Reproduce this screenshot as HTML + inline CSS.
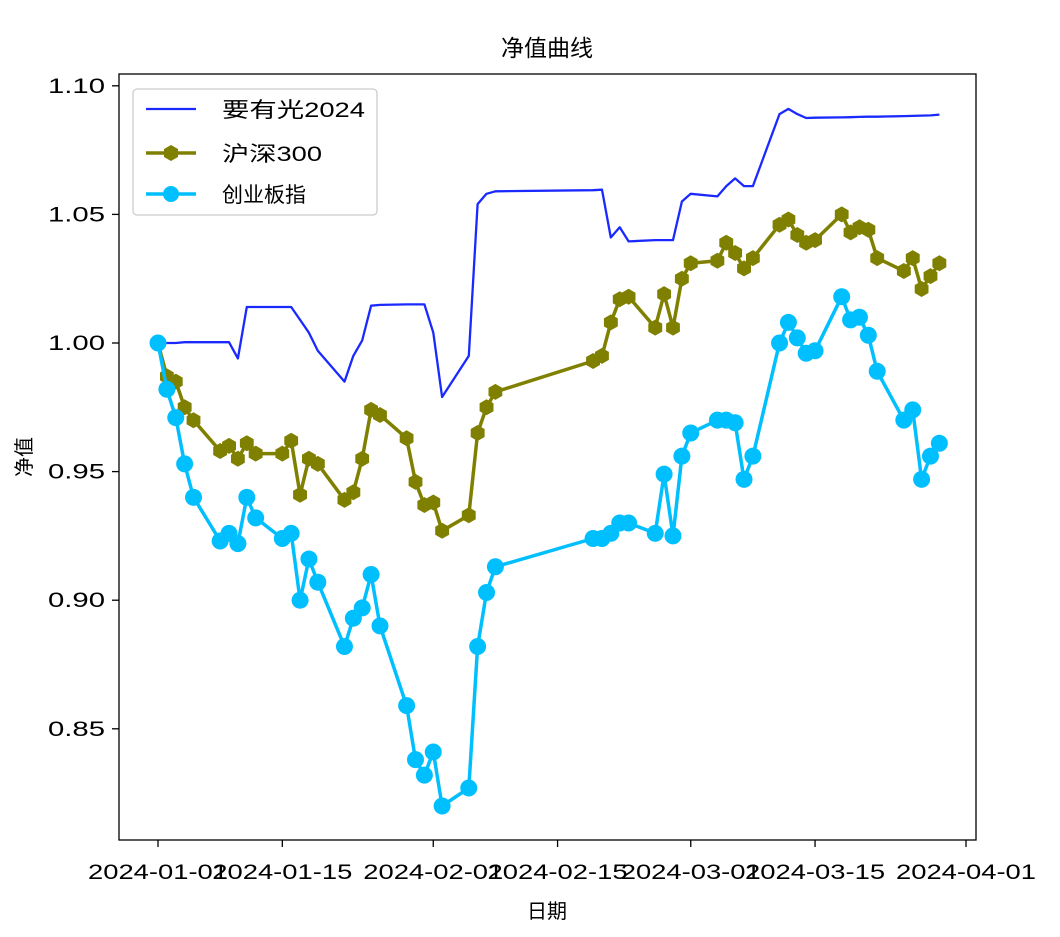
<!DOCTYPE html>
<html><head><meta charset="utf-8">
<style>
html,body{margin:0;padding:0;background:#fff;}
svg text{font-family:"Liberation Sans","Noto Sans CJK SC",sans-serif;fill:#000;}
</style></head>
<body>
<svg id="chart" width="1060" height="932" xmlns="http://www.w3.org/2000/svg">
<rect width="1060" height="932" fill="#fff"/>
<text x="547" y="56" font-size="23" text-anchor="middle">净值曲线</text>
<g id="plot"></g>
<rect x="119" y="74" width="857" height="766" fill="none" stroke="#000" stroke-width="1.3"/>
<text x="547" y="918" font-size="20" text-anchor="middle">日期</text>
<text x="0" y="0" font-size="20" text-anchor="middle" transform="translate(31,457) rotate(-90)">净值</text>
<g>
<rect x="133" y="89" width="244" height="126" rx="4" fill="#fff" stroke="#ccc" stroke-width="1.3"/>
<g>
<line x1="146" y1="109" x2="196" y2="109" stroke="#1a2aff" stroke-width="2.3"/>
<text x="222" y="117" font-size="21" textLength="143" lengthAdjust="spacingAndGlyphs">要有光2024</text></g>
<g>
<line x1="146" y1="153" x2="196" y2="153" stroke="#808000" stroke-width="3.5"/>
<polygon points="171,145 178,149 178,157 171,161 164,157 164,149" fill="#808000"/>
<text x="222" y="161" font-size="21" textLength="100" lengthAdjust="spacingAndGlyphs">沪深300</text></g>
<g>
<line x1="146" y1="194" x2="196" y2="194" stroke="#00bfff" stroke-width="3.5"/>
<circle cx="171" cy="194" r="8" fill="#00bfff"/>
<text x="222" y="202" font-size="21">创业板指</text></g>
</g>
</svg>
<script>
const dates=["2024-01-01","2024-01-02","2024-01-03","2024-01-04","2024-01-05","2024-01-08","2024-01-09","2024-01-10","2024-01-11","2024-01-12","2024-01-15","2024-01-16","2024-01-17","2024-01-18","2024-01-19","2024-01-22","2024-01-23","2024-01-24","2024-01-25","2024-01-26","2024-01-29","2024-01-30","2024-01-31","2024-02-01","2024-02-02","2024-02-05","2024-02-06","2024-02-07","2024-02-08","2024-02-19","2024-02-20","2024-02-21","2024-02-22","2024-02-23","2024-02-26","2024-02-27","2024-02-28","2024-02-29","2024-03-01","2024-03-04","2024-03-05","2024-03-06","2024-03-07","2024-03-08","2024-03-11","2024-03-12","2024-03-13","2024-03-14","2024-03-15","2024-03-18","2024-03-19","2024-03-20","2024-03-21","2024-03-22","2024-03-25","2024-03-26","2024-03-27","2024-03-28","2024-03-29"];
const fundValues=[1.000,1.000,1.000,1.0003,1.0003,1.0003,1.0003,0.994,1.014,1.014,1.014,1.014,1.009,1.004,0.997,0.985,0.995,1.001,1.0145,1.0148,1.015,1.015,1.015,1.004,0.979,0.995,1.054,1.058,1.059,1.0594,1.0596,1.041,1.045,1.0395,1.040,1.040,1.040,1.055,1.058,1.057,1.061,1.064,1.061,1.061,1.089,1.091,1.089,1.0875,1.0876,1.0877,1.0878,1.0879,1.088,1.088,1.0882,1.0883,1.0884,1.0885,1.0888];
const csiValues=[1.000,0.987,0.985,0.975,0.970,0.958,0.960,0.955,0.961,0.957,0.957,0.962,0.941,0.955,0.953,0.939,0.942,0.955,0.974,0.972,0.963,0.946,0.937,0.938,0.927,0.933,0.965,0.975,0.981,0.993,0.995,1.008,1.017,1.018,1.006,1.019,1.006,1.025,1.031,1.032,1.039,1.035,1.029,1.033,1.046,1.048,1.042,1.039,1.040,1.050,1.043,1.045,1.044,1.033,1.028,1.033,1.021,1.026,1.031];
const cybValues=[1.000,0.982,0.971,0.953,0.940,0.923,0.926,0.922,0.940,0.932,0.924,0.926,0.900,0.916,0.907,0.882,0.893,0.897,0.910,0.890,0.859,0.838,0.832,0.841,0.820,0.827,0.882,0.903,0.913,0.924,0.924,0.926,0.930,0.930,0.926,0.949,0.925,0.956,0.965,0.970,0.970,0.969,0.947,0.956,1.000,1.008,1.002,0.996,0.997,1.018,1.009,1.010,1.003,0.989,0.970,0.974,0.947,0.956,0.961];
const yTicks=[0.85,0.90,0.95,1.00,1.05,1.10];
const xTicks=["2024-01-01","2024-01-15","2024-02-01","2024-02-15","2024-03-01","2024-03-15","2024-04-01"];

const NS="http://www.w3.org/2000/svg";
const t0=Date.UTC(2024,0,1);
function dayOf(s){const p=s.split("-");return (Date.UTC(+p[0],+p[1]-1,+p[2])-t0)/86400000;}
function xs(s){return 158+dayOf(s)*(808/91);}
function ys(v){return 343-(v-1)*2572;}
const plot=document.getElementById("plot");
function mk(tag,attrs,parent){const e=document.createElementNS(NS,tag);for(const k in attrs)e.setAttribute(k,attrs[k]);(parent||plot).appendChild(e);return e;}

yTicks.forEach(v=>{
  const g=mk("g",{});
  
  
  mk("line",{x1:112,x2:119,y1:ys(v),y2:ys(v),stroke:"#000","stroke-width":1.3},g);
  const t=mk("text",{x:105,y:ys(v)+7,"font-size":21,"text-anchor":"end",textLength:57,lengthAdjust:"spacingAndGlyphs"},g);
  t.textContent=v.toFixed(2);
});
xTicks.forEach(d=>{
  const g=mk("g",{});
  
  
  mk("line",{x1:xs(d),x2:xs(d),y1:840,y2:847,stroke:"#000","stroke-width":1.3},g);
  const t=mk("text",{x:xs(d)-70,y:879,"font-size":21,textLength:140,lengthAdjust:"spacingAndGlyphs"},g);
  t.textContent=d;
});

function series(vals,color,w,name){
  const pts=vals.map((v,i)=>xs(dates[i]).toFixed(1)+","+ys(v).toFixed(1)).join(" ");
  const l=mk("polyline",{points:pts,fill:"none",stroke:color,"stroke-width":w,"stroke-linejoin":"round"});
  
  
}
series(fundValues,"#1a2aff",2.3,"fund-line");
series(csiValues,"#808000",3.5,"csi300-line");
csiValues.forEach((v,i)=>{
  const cx=xs(dates[i]),cy=ys(v),r=8;
  let p=[];for(let k=0;k<6;k++){const a=Math.PI/3*k-Math.PI/2;p.push((cx+r*Math.cos(a)).toFixed(1)+","+(cy+r*Math.sin(a)).toFixed(1));}
  const h=mk("polygon",{points:p.join(" "),fill:"#808000"});
  
  
});
series(cybValues,"#00bfff",3.5,"chinext-line");
cybValues.forEach((v,i)=>{
  const c=mk("circle",{cx:xs(dates[i]),cy:ys(v),r:8.5,fill:"#00bfff"});
  
  
});
</script>
</body></html>
